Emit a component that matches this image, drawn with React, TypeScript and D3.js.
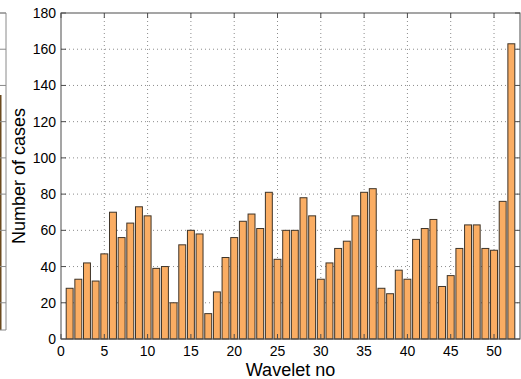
import React from "react";
import * as d3 from "d3";

const waveletNo: number[] = Array.from({ length: 52 }, (_, i) => i + 1);
const cases: number[] = [
  28, 33, 42, 32, 47, 70, 56, 64, 73, 68,
  39, 40, 20, 52, 60, 58, 14, 26, 45, 56,
  65, 69, 61, 81, 44, 60, 60, 78, 68, 33,
  42, 50, 54, 68, 81, 83, 28, 25, 38, 33,
  55, 61, 66, 29, 35, 50, 63, 63, 50, 49,
  76, 163,
];
const xTicks: number[] = [0, 5, 10, 15, 20, 25, 30, 35, 40, 45, 50];
const yTicks: number[] = [0, 20, 40, 60, 80, 100, 120, 140, 160, 180];
const xLabel = "Wavelet no";
const yLabel = "Number of cases";

const W = 521;
const H = 379;
const M = { left: 61, right: 520, top: 13, bottom: 339 };

export default function App() {
  const x = d3.scaleLinear().domain([0, 53]).range([M.left, M.right]);
  const y = d3.scaleLinear().domain([0, 180]).range([M.bottom, M.top]);
  const unit = x(1) - x(0);
  const bw = unit * 0.8;
  const font = "'Liberation Sans', Arial, Helvetica, sans-serif";
  const axisColor = "#4d4d4d";
  const tickLen = 5;

  // neighbour panel (partially visible at left edge)
  const leftTicks = yTicks.slice(1);

  return (
    <svg
      width={W}
      height={H}
      style={{ position: "absolute", left: 0, top: 0, background: "#fff" }}
      fontFamily={font}
    >
      {/* partial neighbouring panel */}
      <rect x={-1} y={95} width={2.5} height={235} fill="#6b4a1e" />
      <line x1={-2} x2={6} y1={M.top} y2={M.top} stroke="#8a8a8a" />
      <line x1={-2} x2={6} y1={330} y2={330} stroke="#8a8a8a" />
      <line x1={6} x2={6} y1={M.top} y2={330} stroke="#8a8a8a" />
      {leftTicks.map((t) => (
        <line key={"lt" + t} x1={0} x2={6} y1={y(t)} y2={y(t)} stroke="#8a8a8a" />
      ))}

      {/* grid */}
      {xTicks.slice(1).map((t) => (
        <line
          key={"gx" + t}
          x1={x(t)}
          x2={x(t)}
          y1={M.top}
          y2={M.bottom}
          stroke="#8c8c8c"
          strokeDasharray="1 3"
        />
      ))}
      {yTicks.slice(1, -1).map((t) => (
        <line
          key={"gy" + t}
          x1={M.left}
          x2={M.right}
          y1={y(t)}
          y2={y(t)}
          stroke="#8c8c8c"
          strokeDasharray="1 3"
        />
      ))}

      {/* bars */}
      {cases.map((v, i) => (
        <rect
          key={"b" + i}
          x={x(waveletNo[i]) - bw / 2}
          y={y(v)}
          width={bw}
          height={y(0) - y(v)}
          fill="#FAAD63"
          stroke="#3f3428"
          strokeWidth={1}
        />
      ))}

      {/* axes box */}
      <rect
        x={M.left}
        y={M.top}
        width={M.right - M.left}
        height={M.bottom - M.top}
        fill="none"
        stroke={axisColor}
        strokeWidth={1}
      />
      {xTicks.map((t) => (
        <g key={"xt" + t}>
          <line x1={x(t)} x2={x(t)} y1={M.bottom} y2={M.bottom - tickLen} stroke={axisColor} />
          <line x1={x(t)} x2={x(t)} y1={M.top} y2={M.top + tickLen} stroke={axisColor} />
          <text x={x(t)} y={356} textAnchor="middle" fontSize={14} fill="#000">
            {t}
          </text>
        </g>
      ))}
      {yTicks.map((t) => (
        <g key={"yt" + t}>
          <line x1={M.left} x2={M.left + tickLen} y1={y(t)} y2={y(t)} stroke={axisColor} />
          <line x1={M.right} x2={M.right - tickLen} y1={y(t)} y2={y(t)} stroke={axisColor} />
          <text x={56} y={y(t)} dy="0.36em" textAnchor="end" fontSize={14} fill="#000">
            {t}
          </text>
        </g>
      ))}

      <text x={(M.left + M.right) / 2} y={376} textAnchor="middle" fontSize={18} fill="#000">
        {xLabel}
      </text>
      <text
        transform={`translate(25, ${(M.top + M.bottom) / 2}) rotate(-90)`}
        textAnchor="middle"
        fontSize={18}
        fill="#000"
      >
        {yLabel}
      </text>
    </svg>
  );
}
